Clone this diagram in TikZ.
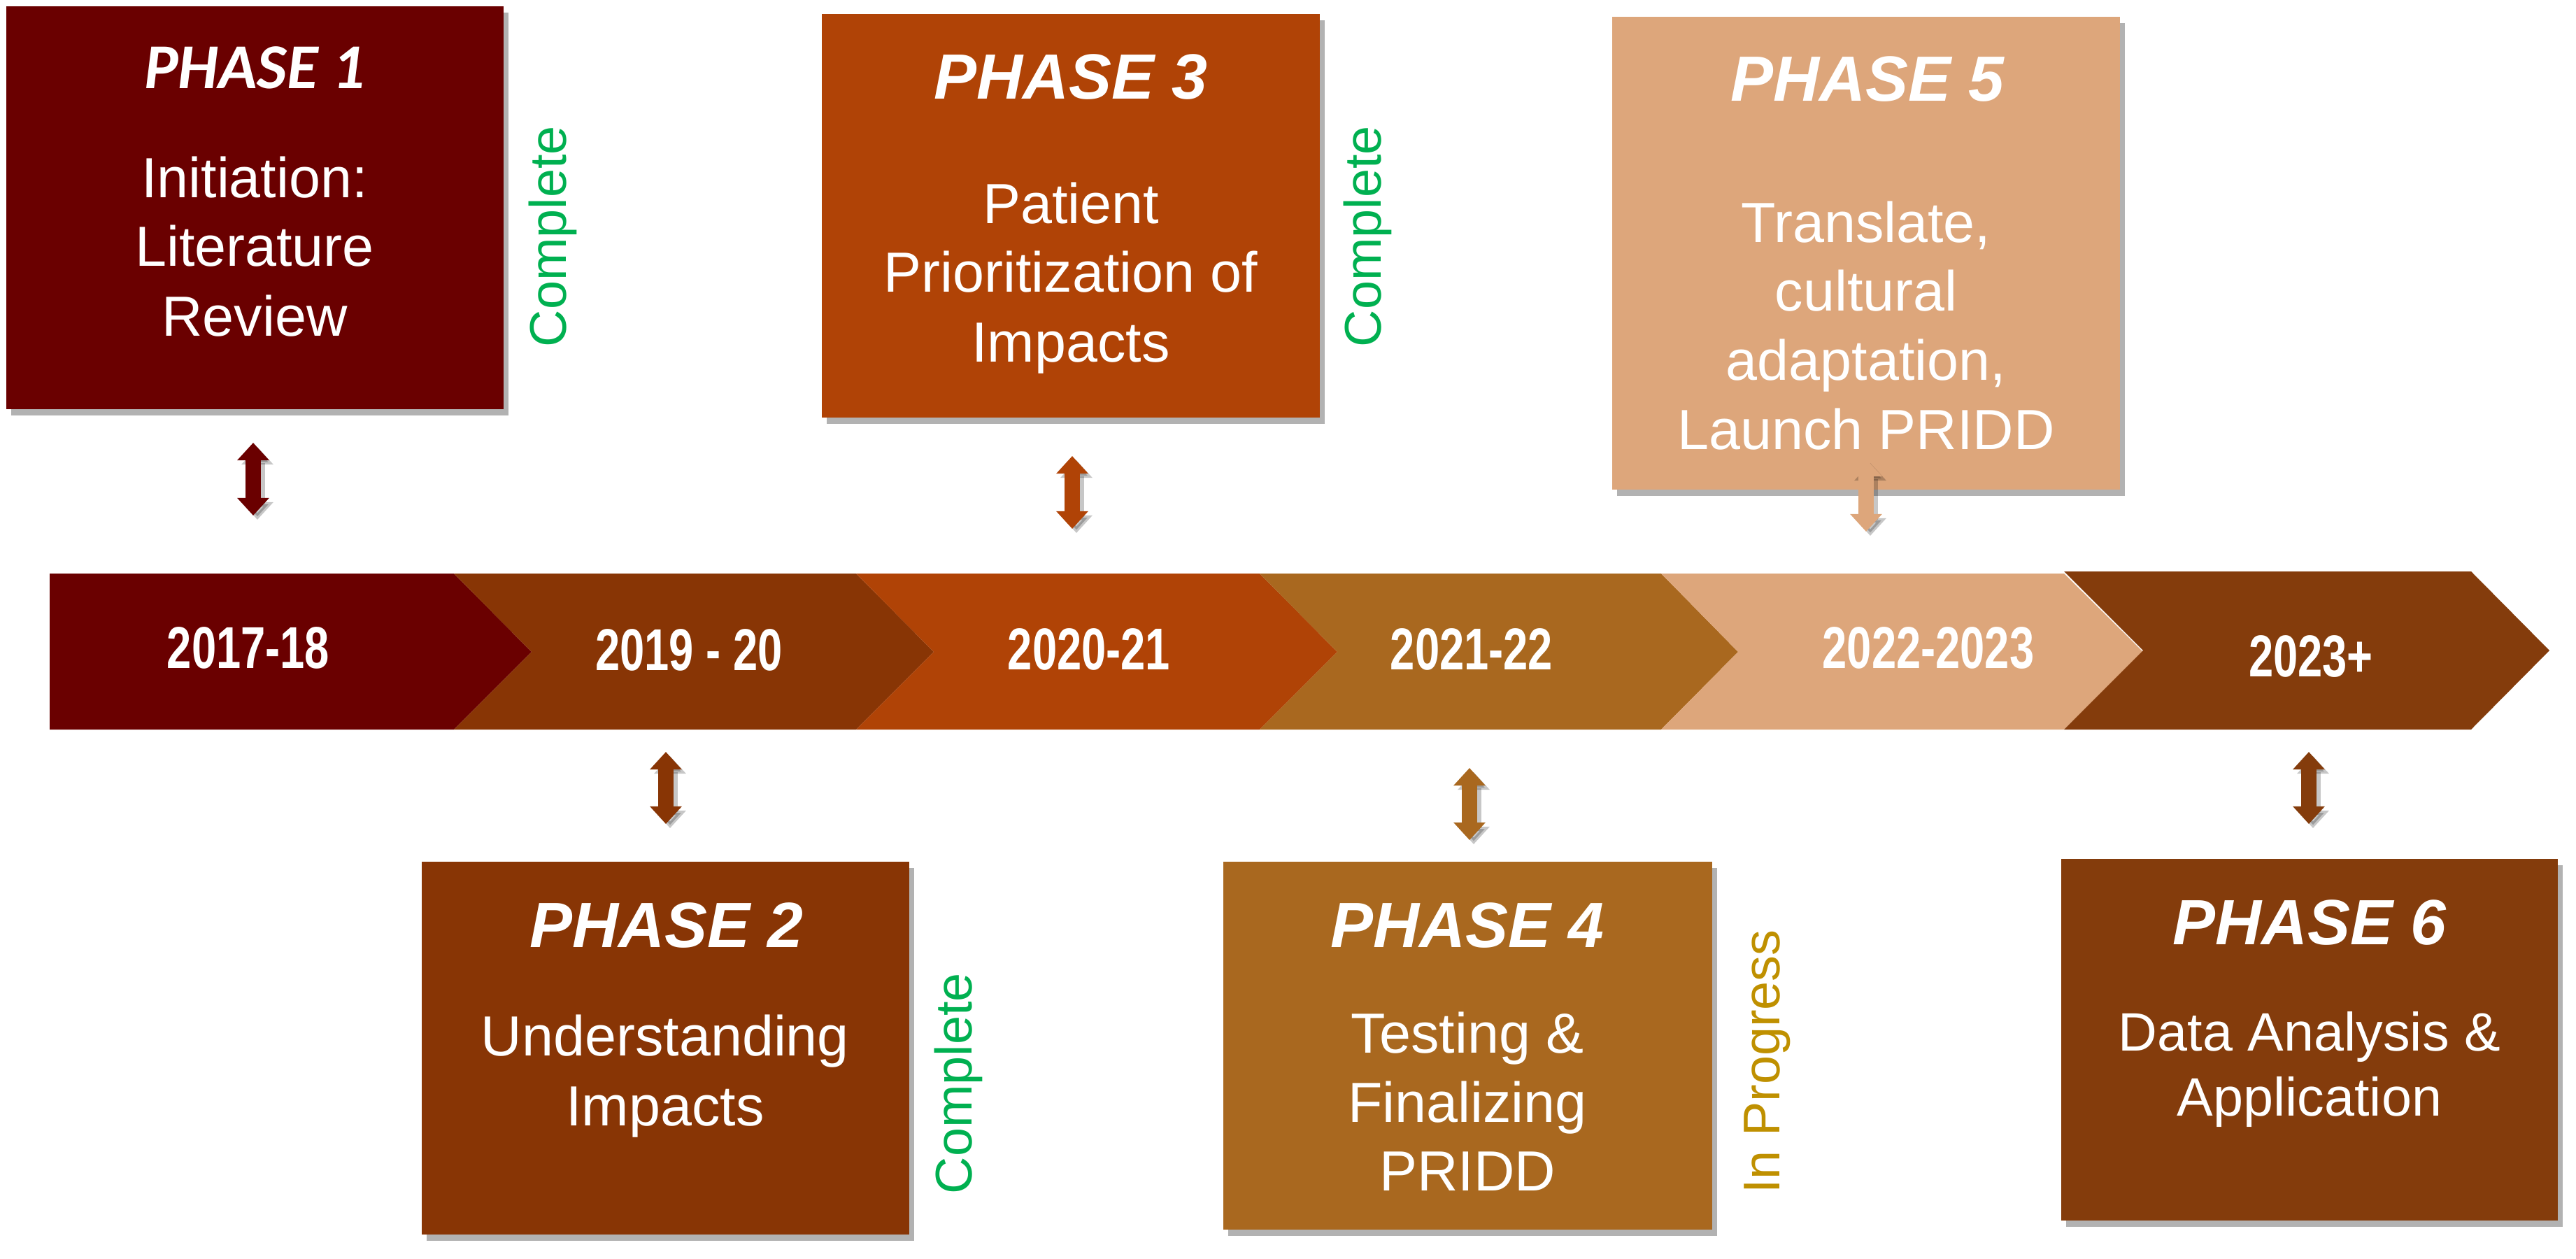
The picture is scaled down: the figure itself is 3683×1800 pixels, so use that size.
\documentclass[tikz,border=0pt]{standalone}
\usepackage{fontspec}
\setmainfont{Liberation Sans}
\newfontfamily\yearfont[FakeStretch=0.75]{Liberation Sans}
\newfontfamily\calfont{Carlito}
\usetikzlibrary{arrows.meta,shadows}
\definecolor{cA}{HTML}{6A0000}
\definecolor{cB}{HTML}{883505}
\definecolor{cC}{HTML}{B04306}
\definecolor{cD}{HTML}{A9681F}
\definecolor{cE}{HTML}{DDA67B}
\definecolor{cF}{HTML}{843C0C}
\definecolor{okgreen}{HTML}{00B050}
\definecolor{gold}{HTML}{BF9000}
\begin{document}
\begin{tikzpicture}[x=0.01cm,y=-0.01cm,
  phasebox/.style={rectangle, inner sep=0, draw=none,
    drop shadow={shadow xshift=0.07cm, shadow yshift=-0.09cm, opacity=0.3, fill=black}},
  ttl/.style={text=white, font=\fontsize{26}{31}\selectfont\bfseries\itshape, anchor=base, inner sep=0},
  bodyline/.style={text=white, font=\fontsize{23}{28}\selectfont, anchor=base, inner sep=0},
  yearlbl/.style={text=white, font=\yearfont\bfseries\fontsize{24}{28}\selectfont, anchor=base, inner sep=0},
  status/.style={rotate=90, font=\fontsize{21}{25}\selectfont, inner sep=0},
  dblarrow/.style={line width=0.22cm, {Triangle[width=0.44cm,length=0.25cm]}-{Triangle[width=0.44cm,length=0.25cm]}},
  arrshadow/.style={dblarrow, draw=black, opacity=0.22}
]
\useasboundingbox (0,0) rectangle (3683,1800);

% ---------- timeline ----------
\fill[cA] (71,820) -- (649,820) -- (760,932) -- (649,1043) -- (71,1043) -- cycle;
\fill[cB] (649,820) -- (1224,820) -- (1335,932) -- (1224,1043) -- (649,1043) -- (760,932) -- cycle;
\fill[cC] (1224,820) -- (1801,820) -- (1912,932) -- (1801,1043) -- (1224,1043) -- (1335,932) -- cycle;
\fill[cD] (1801,820) -- (2375,820) -- (2485,932) -- (2375,1043) -- (1801,1043) -- (1912,932) -- cycle;
\fill[cE] (2375,820) -- (2951,820) -- (3064,932) -- (2951,1043) -- (2375,1043) -- (2485,932) -- cycle;
\fill[cF] (2951,817) -- (3533,817) -- (3645,930) -- (3533,1043) -- (2951,1043) -- (3064,930) -- cycle;

\node[yearlbl] (y1) at (355,955) {2017-18};
\node[yearlbl] (y2) at (985,958) {2019 - 20};
\node[yearlbl] (y3) at (1557,957) {2020-21};
\node[yearlbl] (y4) at (2104,957) {2021-22};
\node[yearlbl] (y5) at (2757,955) {2022-2023};
\node[yearlbl] (y6) at (3304,967) {2023+};

% ---------- phase boxes ----------
\node[phasebox, fill=cA, minimum width=7.11cm, minimum height=5.76cm] (p1) at (364.5,297) {};
\node[phasebox, fill=cC, minimum width=7.12cm, minimum height=5.77cm] (p3) at (1531,308.5) {};
\node[phasebox, fill=cE, minimum width=7.26cm, minimum height=6.76cm] (p5) at (2668,362) {};
\node[phasebox, fill=cB, minimum width=6.97cm, minimum height=5.33cm] (p2) at (951.5,1498.5) {};
\node[phasebox, fill=cD, minimum width=6.99cm, minimum height=5.26cm] (p4) at (2098.5,1495) {};
\node[phasebox, fill=cF, minimum width=7.10cm, minimum height=5.17cm] (p6) at (3302,1486.5) {};

% phase 1
\node[ttl, font=\calfont\fontsize{26}{31}\selectfont\bfseries\itshape] (t1) at (364,127) {PHASE 1};
\node[bodyline] (b1a) at (364,283) {Initiation:};
\node[bodyline] (b1b) at (364,380) {Literature};
\node[bodyline] (b1c) at (364,480) {Review};
% phase 3
\node[ttl] (t3) at (1531,142) {PHASE 3};
\node[bodyline] (b3a) at (1531,320) {Patient};
\node[bodyline] (b3b) at (1531,418) {Prioritization of};
\node[bodyline] (b3c) at (1531,518) {Impacts};
% phase 5
\node[ttl] (t5) at (2670,145) {PHASE 5};
\node[bodyline] (b5a) at (2668,347) {Translate,};
\node[bodyline] (b5b) at (2668,444) {cultural};
\node[bodyline] (b5c) at (2668,543) {adaptation,};
\node[bodyline] (b5d) at (2668,642) {Launch PRIDD};
% phase 2
\node[ttl] (t2) at (953,1354) {PHASE 2};
\node[bodyline] (b2a) at (951,1509) {Understanding};
\node[bodyline] (b2b) at (951,1609) {Impacts};
% phase 4
\node[ttl] (t4) at (2098,1354) {PHASE 4};
\node[bodyline] (b4a) at (2098,1505) {Testing \&};
\node[bodyline] (b4b) at (2098,1604) {Finalizing};
\node[bodyline] (b4c) at (2098,1702) {PRIDD};
% phase 6
\node[ttl] (t6) at (3302,1350) {PHASE 6};
\node[bodyline, font=\fontsize{22}{27}\selectfont] (b6a) at (3302,1502) {Data Analysis \&};
\node[bodyline, font=\fontsize{22}{27}\selectfont] (b6b) at (3302,1595) {Application};

% status labels
\node[status, text=okgreen] (s1) at (790,338) {Complete};
\node[status, text=okgreen] (s3) at (1955,338) {Complete};
\node[status, text=okgreen] (s2) at (1370,1549) {Complete};
\node[status, text=gold] (s4) at (2527,1518) {In Progress};

% ---------- double arrows ----------
\coordinate (a1t) at (362,633);  \coordinate (a1b) at (362,737);
\coordinate (a3t) at (1533,652); \coordinate (a3b) at (1533,756);
\coordinate (a5t) at (2668,656); \coordinate (a5b) at (2668,760);
\coordinate (a2t) at (952,1075); \coordinate (a2b) at (952,1178);
\coordinate (a4t) at (2101,1098);\coordinate (a4b) at (2101,1201);
\coordinate (a6t) at (3301,1075);\coordinate (a6b) at (3301,1178);

\foreach \a in {1,2,3,4,5,6}{
  \draw[arrshadow] ([shift={(6,6)}]a\a t) -- ([shift={(6,6)}]a\a b);
}
\draw[dblarrow, draw=cA, fill=cA] (a1t) -- (a1b);
\draw[dblarrow, draw=cC, fill=cC] (a3t) -- (a3b);
\draw[dblarrow, draw=cE, fill=cE] (a5t) -- (a5b);
\draw[dblarrow, draw=cB, fill=cB] (a2t) -- (a2b);
\draw[dblarrow, draw=cD, fill=cD] (a4t) -- (a4b);
\draw[dblarrow, draw=cF, fill=cF] (a6t) -- (a6b);
\end{tikzpicture}
\end{document}
